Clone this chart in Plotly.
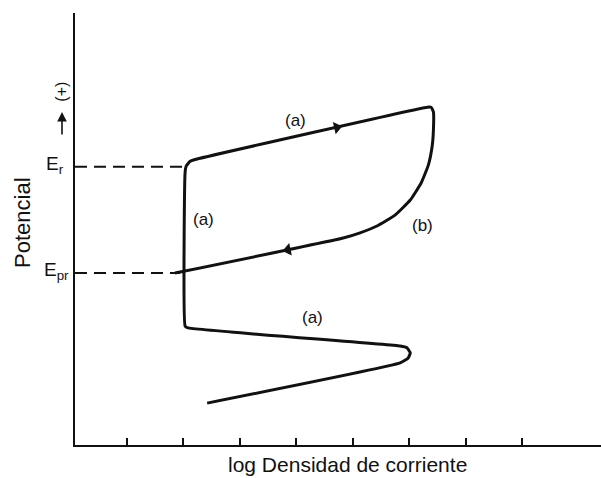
import plotly.graph_objects as go

# Polarization curve: log current density (arbitrary decades) vs potential (arbitrary units)
log_i = [2.42, 5.84, 5.98, 6.02, 5.96, 5.84, 2.08, 2.03, 2.03, 2.05, 2.12, 2.24,
         6.32, 6.39, 6.43, 6.43, 6.41, 6.34, 6.21, 6.02, 5.75, 5.43, 5.13, 4.83, 1.85]
potential = [0.97, 1.90, 2.01, 2.13, 2.25, 2.29, 2.71, 2.75, 6.32, 6.46, 6.57, 6.62,
             7.82, 7.82, 7.71, 7.29, 6.94, 6.48, 6.06, 5.67, 5.32, 5.07, 4.91, 4.79, 3.98]

# Direction arrows on the forward and reverse scans
arrow_x = [4.72, 3.85]
arrow_y = [7.35, 4.52]
arrow_symbols = ["triangle-right", "triangle-left"]
arrow_angles = [-13, -12]

# Characteristic potentials and where their guide lines meet the curve
E_r = 6.44
E_pr = 3.98
E_r_end = 2.03
E_pr_end = 1.94

# Branch labels
label_text = ["(a)", "(a)", "(b)", "(a)"]
label_x = [3.98, 2.35, 6.23, 4.28]
label_y = [7.52, 5.21, 5.09, 2.94]

tick_positions = [1, 2, 3, 4, 5, 6, 7, 8]

x_min, x_max = 0.078, 9.40
ink = "#111111"
font_family = "Liberation Sans, Arial, sans-serif"

fig = go.Figure()

fig.add_trace(go.Scatter(
    x=log_i, y=potential, mode="lines",
    line=dict(color=ink, width=3, shape="spline", smoothing=0.4),
    hoverinfo="skip", showlegend=False,
))

fig.add_trace(go.Scatter(
    x=arrow_x, y=arrow_y, mode="markers",
    marker=dict(symbol=arrow_symbols, angle=arrow_angles, size=11, color=ink),
    hoverinfo="skip", showlegend=False,
))

for level, end in [(E_r, E_r_end), (E_pr, E_pr_end)]:
    fig.add_trace(go.Scatter(
        x=[x_min, end], y=[level, level], mode="lines",
        line=dict(color=ink, width=2, dash="12px,7px"),
        hoverinfo="skip", showlegend=False,
    ))

for t, x, y in zip(label_text, label_x, label_y):
    fig.add_annotation(x=x, y=y, text=t, showarrow=False,
                       xanchor="center", yanchor="middle",
                       font=dict(size=17, color=ink, family=font_family))

# Axis labels
fig.add_annotation(xref="paper", yref="paper", x=0.519, y=-0.046,
                   text="log Densidad de corriente", showarrow=False,
                   xanchor="center", yanchor="middle",
                   font=dict(size=21, color=ink, family=font_family))
fig.add_annotation(xref="paper", yref="paper", x=-0.101, y=0.516,
                   text="Potencial", textangle=-90, showarrow=False,
                   xanchor="center", yanchor="middle",
                   font=dict(size=22, color=ink, family=font_family))

# Upward arrow marking the positive potential direction
fig.add_annotation(xref="paper", yref="paper", x=-0.0247, y=0.771,
                   text="", showarrow=True, ax=0, ay=24,
                   arrowhead=2, arrowsize=1.2, arrowwidth=1.6, arrowcolor=ink)
fig.add_annotation(xref="paper", yref="paper", x=-0.0247, y=0.818,
                   text="(+)", textangle=-90, showarrow=False,
                   xanchor="center", yanchor="middle",
                   font=dict(size=16, color=ink, family=font_family))

fig.add_annotation(xref="paper", yref="y", x=-0.017, y=E_r + 0.05,
                   text="E<sub>r</sub>", xanchor="right", yanchor="middle",
                   showarrow=False,
                   font=dict(size=19, color=ink, family=font_family))
fig.add_annotation(xref="paper", yref="y", x=-0.008, y=E_pr + 0.05,
                   text="E<sub>pr</sub>", xanchor="right", yanchor="middle",
                   showarrow=False,
                   font=dict(size=19, color=ink, family=font_family))

fig.update_xaxes(range=[x_min, x_max], showline=True, linecolor=ink, linewidth=2,
                 tickmode="array", tickvals=tick_positions, ticks="inside",
                 ticklen=7, tickwidth=2, tickcolor=ink, showticklabels=False,
                 showgrid=False, zeroline=False)
fig.update_yaxes(range=[0, 10], showline=True, linecolor=ink, linewidth=2,
                 showticklabels=False, ticks="", showgrid=False, zeroline=False)

fig.update_layout(
    width=601, height=478,
    margin=dict(l=75, r=0, t=13, b=33),
    paper_bgcolor="white", plot_bgcolor="white",
)

fig.write_html("out.html")
